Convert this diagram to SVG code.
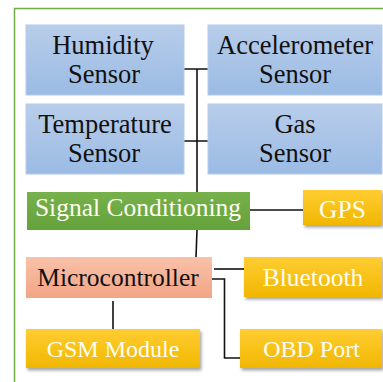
<svg xmlns="http://www.w3.org/2000/svg" width="383" height="382" viewBox="0 0 383 382">
  <defs>
    <linearGradient id="gBlue" x1="0" y1="0" x2="0" y2="1">
      <stop offset="0" stop-color="#b8cdea"/>
      <stop offset="1" stop-color="#9bbbe4"/>
    </linearGradient>
    <linearGradient id="gGreen" x1="0" y1="0" x2="0" y2="1">
      <stop offset="0" stop-color="#76b14c"/>
      <stop offset="1" stop-color="#66a23c"/>
    </linearGradient>
    <linearGradient id="gSalmon" x1="0" y1="0" x2="0" y2="1">
      <stop offset="0" stop-color="#f8c2a9"/>
      <stop offset="1" stop-color="#f3a486"/>
    </linearGradient>
    <linearGradient id="gGold" x1="0" y1="0" x2="0" y2="1">
      <stop offset="0" stop-color="#ffcd33"/>
      <stop offset="1" stop-color="#f1b700"/>
    </linearGradient>
    <filter id="shadow" x="-10%" y="-20%" width="125%" height="150%">
      <feDropShadow dx="1.5" dy="2.5" stdDeviation="1.5" flood-color="#000" flood-opacity="0.35"/>
    </filter>
  </defs>
  <style>
    .sensor { fill: url(#gBlue); stroke: #b3cbeb; stroke-width: 1; }
    .gold { fill: url(#gGold); filter: url(#shadow); }
    .lbl { font-family: "Liberation Serif", "Times New Roman", serif; font-size: 25.5px; text-anchor: middle; }
    .big { font-size: 26.5px; }
    .small { font-size: 24px; }
    .dark { fill: #111; }
    .light { fill: #fffdf2; }
    .wire { fill: none; stroke: #111; stroke-width: 1.6; }
  </style>

  <rect width="383" height="382" fill="#ffffff"/>

  <!-- outer frame -->
  <path d="M14.5 382 V8.5 H383" fill="none" stroke="#70ad47" stroke-width="1.5"/>

  <!-- connectors -->
  <g id="connectors">
    <path class="wire" d="M176 69 H209"/>
    <path class="wire" d="M178 141 H212"/>
    <path class="wire" d="M197 69 V192"/>
    <path class="wire" d="M250 210 H304"/>
    <path class="wire" d="M197 230 L196 257"/>
    <path class="wire" d="M214 269 H244"/>
    <path class="wire" d="M210 279 H224.5 V358 H240"/>
    <path class="wire" d="M113 301 V329"/>
  </g>

  <g id="humidity">
    <rect class="sensor" x="26" y="25" width="158" height="70"/>
    <text class="lbl big dark" x="103" y="54">Humidity</text>
    <text class="lbl big dark" x="104" y="83">Sensor</text>
  </g>

  <g id="accelerometer">
    <rect class="sensor" x="208" y="25" width="174" height="70"/>
    <text class="lbl big dark" x="295" y="54">Accelerometer</text>
    <text class="lbl big dark" x="295" y="83">Sensor</text>
  </g>

  <g id="temperature">
    <rect class="sensor" x="26" y="104" width="158" height="70"/>
    <text class="lbl big dark" x="105" y="132.5">Temperature</text>
    <text class="lbl big dark" x="104" y="161.5">Sensor</text>
  </g>

  <g id="gas">
    <rect class="sensor" x="208" y="104" width="174" height="70"/>
    <text class="lbl big dark" x="295" y="132.5">Gas</text>
    <text class="lbl big dark" x="295" y="161.5">Sensor</text>
  </g>

  <g id="signal-conditioning">
    <rect x="27" y="192" width="223" height="38" fill="url(#gGreen)"/>
    <text class="lbl light" x="138" y="216">Signal Conditioning</text>
  </g>

  <g id="gps">
    <rect class="gold" x="303" y="190" width="79" height="35"/>
    <text class="lbl light" x="342.5" y="217.5">GPS</text>
  </g>

  <g id="microcontroller">
    <rect x="26" y="257" width="186" height="41" fill="url(#gSalmon)"/>
    <text class="lbl dark" x="118" y="285.5">Microcontroller</text>
  </g>

  <g id="bluetooth">
    <rect class="gold" x="244" y="257" width="138" height="40"/>
    <text class="lbl light" x="313" y="285.5">Bluetooth</text>
  </g>

  <g id="gsm-module">
    <rect class="gold" x="26" y="329" width="174" height="39"/>
    <text class="lbl small light" x="113" y="356.5">GSM Module</text>
  </g>

  <g id="obd-port">
    <rect class="gold" x="240" y="329" width="142" height="39"/>
    <text class="lbl small light" x="311.5" y="356.5">OBD Port</text>
  </g>
</svg>
